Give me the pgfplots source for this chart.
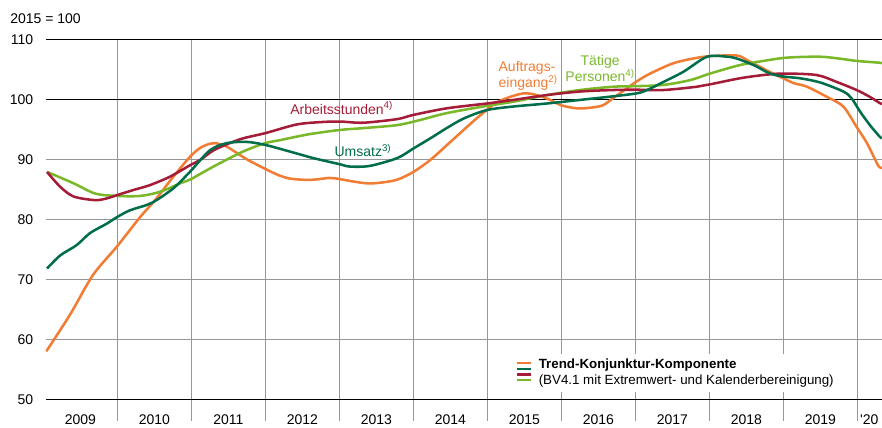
\documentclass[border=0pt]{standalone}
\usepackage{fontspec}
\setmainfont{Liberation Sans}
\usepackage{pgfplots}
\pgfplotsset{compat=1.18}
\definecolor{cOr}{RGB}{241,124,51}
\definecolor{cDg}{RGB}{0,110,75}
\definecolor{cRd}{RGB}{165,28,56}
\definecolor{cLg}{RGB}{122,184,42}
\definecolor{cGrid}{RGB}{150,150,150}

\pgfplotstableread{
x y
2009.04 58.0
2009.36 64.1
2009.67 70.7
2009.99 75.4
2010.31 80.4
2010.51 83.2
2010.75 87.0
2010.98 90.4
2011.12 91.9
2011.25 92.6
2011.32 92.7
2011.45 92.3
2011.56 91.5
2011.75 90.0
2012.00 88.4
2012.19 87.3
2012.33 86.8
2012.50 86.6
2012.65 86.6
2012.87 86.9
2013.01 86.7
2013.14 86.4
2013.37 86.0
2013.55 86.1
2013.78 86.6
2014.00 87.9
2014.23 89.9
2014.50 92.9
2014.77 95.9
2014.90 97.3
2015.00 98.3
2015.10 99.3
2015.26 100.2
2015.49 101.0
2015.67 100.7
2015.85 99.9
2016.00 99.0
2016.21 98.5
2016.39 98.6
2016.56 99.0
2016.70 100.2
2016.88 101.8
2017.02 103.0
2017.20 104.3
2017.51 106.0
2017.78 106.8
2018.01 107.2
2018.37 107.3
2018.50 106.6
2018.64 105.7
2018.86 104.3
2019.00 103.5
2019.14 102.7
2019.32 102.1
2019.59 100.4
2019.81 98.8
2019.99 95.4
2020.13 92.7
2020.28 89.0
2020.33 88.6
}\auftrag

\pgfplotstableread{
x y
2009.05 71.8
2009.23 74.0
2009.45 75.7
2009.63 77.7
2009.86 79.3
2010.00 80.4
2010.17 81.5
2010.40 82.4
2010.53 83.2
2010.76 85.2
2010.98 87.9
2011.25 91.5
2011.48 92.7
2011.75 92.9
2012.00 92.4
2012.33 91.3
2012.65 90.2
2013.00 89.2
2013.14 88.8
2013.41 88.9
2013.78 90.2
2014.00 91.8
2014.23 93.5
2014.45 95.2
2014.68 96.8
2014.99 98.2
2015.35 98.8
2015.80 99.3
2016.25 99.9
2016.70 100.5
2017.02 101.0
2017.15 101.5
2017.38 102.9
2017.65 104.6
2017.97 107.1
2018.24 107.1
2018.37 106.8
2018.60 105.7
2018.82 104.3
2019.00 103.8
2019.23 103.5
2019.50 102.8
2019.81 101.3
2019.92 100.2
2020.04 97.9
2020.17 95.7
2020.30 93.8
2020.33 93.5
}\umsatz

\pgfplotstableread{
x y
2009.05 87.9
2009.23 85.4
2009.41 83.8
2009.70 83.2
2009.86 83.5
2010.00 84.05
2010.22 84.9
2010.44 85.7
2010.71 87.1
2010.98 89.0
2011.12 89.9
2011.30 91.5
2011.52 92.7
2011.70 93.5
2012.01 94.4
2012.42 95.8
2012.74 96.2
2013.01 96.3
2013.32 96.1
2013.78 96.7
2014.00 97.4
2014.45 98.5
2014.99 99.3
2015.35 99.9
2015.80 100.7
2016.25 101.3
2016.70 101.55
2017.02 101.6
2017.38 101.55
2017.83 102.1
2018.01 102.5
2018.41 103.5
2018.73 104.05
2019.00 104.3
2019.45 104.05
2019.72 102.9
2019.99 101.55
2020.17 100.4
2020.30 99.4
2020.33 99.2
}\stunden

\pgfplotstableread{
x y
2009.05 87.9
2009.41 86.0
2009.70 84.3
2010.00 83.9
2010.31 83.9
2010.58 84.6
2010.85 86.0
2010.98 86.6
2011.30 88.8
2011.70 91.3
2012.00 92.7
2012.20 93.2
2012.47 93.9
2012.65 94.3
2013.01 94.9
2013.32 95.2
2013.78 95.7
2014.09 96.55
2014.45 97.7
2014.99 98.9
2015.35 99.6
2015.80 100.7
2016.25 101.55
2016.70 102.1
2017.02 102.2
2017.38 102.4
2017.74 103.2
2018.01 104.3
2018.41 105.7
2018.73 106.4
2019.05 106.95
2019.50 107.1
2019.81 106.7
2019.99 106.4
2020.30 106.1
2020.33 106.0
}\personen

\begin{document}
\begin{tikzpicture}
\useasboundingbox (-34.5pt,-21.5pt) rectangle (627pt,299.5pt);
\begin{axis}[
 scale only axis, width=627pt, height=270pt,
 xmin=2009.036, xmax=2020.333, ymin=50, ymax=110,
 axis line style={draw=none},
 font=\fontsize{10.5}{12.6}\selectfont,
 /pgf/number format/assume math mode=true,
 ytick={60,70,80,90}, extra y ticks={50,100,110},
 extra y tick style={major grid style={black, line width=0.9pt}, ytick style={draw=none}},
 ymajorgrids, xmajorgrids,
 major grid style={cGrid, line width=1pt},
 ytick style={draw=none},
 yticklabel style={xshift=-6pt},
 xtick={2010,2011,2012,2013,2014,2015,2016,2017,2018,2019,2020}, xticklabels={},
 xtick align=outside, xtick pos=bottom, ytick pos=left,
 xtick style={cGrid, line width=1pt},
 major tick length=16pt,
 extra x ticks={2009.5,2010.5,2011.5,2012.5,2013.5,2014.5,2015.5,2016.5,2017.5,2018.5,2019.5,2020.16},
 extra x tick labels={2009,2010,2011,2012,2013,2014,2015,2016,2017,2018,2019,\textquotesingle20},
 extra x tick style={grid=none, major tick length=0pt, xtick style={draw=none}, xticklabel style={yshift=-8pt}},
 legend style={at={(rel axis cs:0.5585,0.128)}, anchor=north west, draw=none, fill=white,
   font=\fontsize{10}{11.8}\selectfont, inner sep=2pt, cells={align=left},
   /tikz/every odd column/.append style={column sep=3pt}},
 legend cell align=left,
 every axis plot/.append style={line width=1.9pt},
]
\addplot[cOr, smooth, tension=0.5,
  legend image code/.code={
    \draw[cOr, line width=1.7pt] (0pt,7.2pt) -- (10.5pt,7.2pt);
    \draw[cDg, line width=1.7pt] (0pt,2.9pt) -- (10.5pt,2.9pt);
    \draw[cRd, line width=1.7pt] (0pt,-1.4pt) -- (10.5pt,-1.4pt);
    \draw[cLg, line width=1.7pt] (0pt,-5.7pt) -- (10.5pt,-5.7pt);
  }] table[x=x,y=y] {\auftrag};
\addlegendentry{\textbf{Trend-Konjunktur-Komponente}\\(BV4.1 mit Extremwert- und Kalenderbereinigung)}
\addplot[cLg, smooth, tension=0.5] table[x=x,y=y] {\personen};
\addplot[cRd, smooth, tension=0.5] table[x=x,y=y] {\stunden};
\addplot[cDg, smooth, tension=0.5] table[x=x,y=y] {\umsatz};

\node[cRd, anchor=base west, inner sep=0pt] at (axis cs:2012.334,97.55) {Arbeitsstunden\textsuperscript{4)}};
\node[cDg, anchor=base west, inner sep=0pt] at (axis cs:2012.932,90.5) {Umsatz\textsuperscript{3)}};
\node[cOr, anchor=north west, inner sep=0pt, align=left, font=\fontsize{10.5}{10.5}\selectfont] at (axis cs:2015.149,106.42) {Auftrags-\\eingang\textsuperscript{2)}};
\node[cLg, anchor=north, inner sep=0pt, align=center, font=\fontsize{10.5}{10.5}\selectfont] at (axis cs:2016.524,107.4) {Tätige\\Personen\textsuperscript{4)}};
\end{axis}
\node[anchor=west, inner sep=0pt, font=\fontsize{10.5}{12.6}\selectfont] at (-27pt,285.5pt) {2015 = 100};
\end{tikzpicture}
\end{document}
